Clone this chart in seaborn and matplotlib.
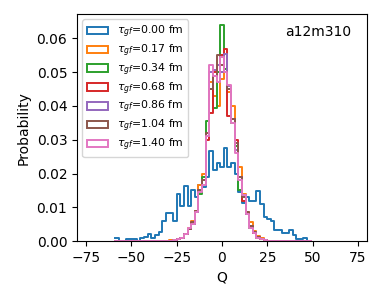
# %%
import numpy as np
import pandas as pd
import matplotlib
matplotlib.use("Agg")
import matplotlib.pyplot as plt
import seaborn as sns
from matplotlib.patches import Patch

# %%
# Q histogram bins: width 2, centred on even Q, from -59 to 49
centers = np.arange(-58, 50, 2)

# tau_gf = 0 : wide distribution over the whole range (-58 ... 48)
p_000 = [0.001, 0.0, 0.0, 0.0005, 0.0005, 0.0005, 0.0, 0.001, 0.0013, 0.002,
         0.001, 0.0017, 0.0028, 0.006, 0.0084, 0.0084, 0.006, 0.0138, 0.0104, 0.0163,
         0.0104, 0.015, 0.013, 0.0165, 0.016, 0.019, 0.0268, 0.021, 0.023, 0.022,
         0.0276, 0.022, 0.023, 0.020, 0.0146, 0.0113, 0.013, 0.012, 0.012, 0.0148,
         0.011, 0.007, 0.0065, 0.006, 0.0033, 0.0033, 0.0023, 0.0023, 0.0033, 0.0017,
         0.0005, 0.0005, 0.001, 0.0]

# tau_gf > 0 : narrow distributions, bins Q = -30 ... 30
narrow_q = list(range(-30, 32, 2))
p_017 = [0.0, 0.0003, 0.0003, 0.0005, 0.001, 0.002, 0.004, 0.0058, 0.009, 0.0165,
         0.020, 0.031, 0.047, 0.043, 0.040, 0.048, 0.050, 0.044, 0.040, 0.028,
         0.022, 0.014, 0.0085, 0.0055, 0.003, 0.0015, 0.0008, 0.0003, 0.0, 0.0, 0.0]
p_034 = [0.0, 0.0, 0.0003, 0.0005, 0.0008, 0.002, 0.0035, 0.005, 0.0085, 0.014,
         0.019, 0.0355, 0.045, 0.0395, 0.050, 0.064, 0.051, 0.046, 0.035, 0.028,
         0.015, 0.012, 0.008, 0.004, 0.0025, 0.001, 0.0005, 0.0, 0.0, 0.0, 0.0]
p_068 = [0.0, 0.0, 0.0003, 0.0005, 0.0008, 0.0022, 0.0035, 0.0052, 0.0088, 0.015,
         0.018, 0.030, 0.038, 0.050, 0.052, 0.055, 0.057, 0.037, 0.036, 0.030,
         0.019, 0.012, 0.008, 0.0045, 0.0025, 0.0012, 0.0005, 0.0003, 0.0, 0.0, 0.0]
p_086 = [0.0, 0.0, 0.0003, 0.0005, 0.0008, 0.002, 0.0035, 0.0052, 0.0085, 0.015,
         0.018, 0.031, 0.050, 0.0505, 0.052, 0.050, 0.0555, 0.046, 0.036, 0.027,
         0.019, 0.0135, 0.008, 0.0045, 0.0028, 0.0012, 0.0005, 0.0003, 0.0, 0.0, 0.0]
p_104 = [0.0, 0.0, 0.0003, 0.0005, 0.0008, 0.002, 0.0037, 0.0055, 0.0088, 0.015,
         0.018, 0.032, 0.045, 0.049, 0.055, 0.052, 0.050, 0.045, 0.036, 0.029,
         0.019, 0.013, 0.0085, 0.0045, 0.0028, 0.0012, 0.0005, 0.0003, 0.0, 0.0, 0.0]
p_140 = [0.0, 0.0, 0.0003, 0.0005, 0.0008, 0.002, 0.0038, 0.0052, 0.0085, 0.0145,
         0.0165, 0.031, 0.052, 0.049, 0.047, 0.0545, 0.050, 0.0463, 0.035, 0.026,
         0.018, 0.0135, 0.008, 0.004, 0.0025, 0.001, 0.0005, 0.0003, 0.0, 0.0, 0.0]

tau_labels = ["0.00", "0.17", "0.34", "0.68", "0.86", "1.04", "1.40"]
colors = sns.color_palette("tab10", 7)


def pad(vals):
    # put a narrow series onto the full set of bins
    out = np.zeros(len(centers))
    idx = int(np.searchsorted(centers, narrow_q[0]))
    out[idx:idx + len(vals)] = vals
    return out


series = [np.array(p_000), pad(p_017), pad(p_034), pad(p_068),
          pad(p_086), pad(p_104), pad(p_140)]

# %%
fig, ax = plt.subplots(figsize=(3.83, 2.87), dpi=100)
fig.subplots_adjust(left=0.201, right=0.958, top=0.951, bottom=0.160)

handles = []
for vals, lab, c in zip(series, tau_labels, colors):
    df = pd.DataFrame({"Q": centers, "p": vals})
    sns.histplot(data=df, x="Q", weights="p", binwidth=2, binrange=(-59, 49),
                 element="step", fill=False, color=c, linewidth=1.4, ax=ax)
    handles.append(Patch(facecolor="none", edgecolor=c, linewidth=1.4,
                         label=r"$\tau_{gf}$=" + lab + " fm"))

ax.set_xlim(-80, 80)
ax.set_ylim(0, 0.0672)
ax.set_xticks([-75, -50, -25, 0, 25, 50, 75])
ax.set_yticks([0.0, 0.01, 0.02, 0.03, 0.04, 0.05, 0.06])
ax.set_xlabel("Q")
ax.set_ylabel("Probability")
ax.text(0.945, 0.92, "a12m310", transform=ax.transAxes, ha="right", va="center")
ax.legend(handles=handles, loc="upper left", fontsize=7.8, labelspacing=0.22)

fig.savefig("out.png", dpi=100)
